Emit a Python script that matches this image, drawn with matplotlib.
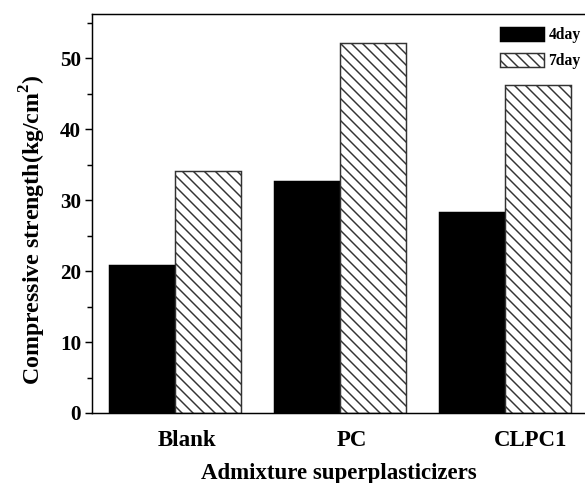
import matplotlib

matplotlib.use("Agg")
import matplotlib.pyplot as plt
import numpy as np

# data
groups = ["Blank", "PC", "CLPC1"]
day4 = [20.9, 32.7, 28.3]
day7 = [34.1, 52.1, 46.2]

plt.rcParams["font.family"] = ["Liberation Serif", "DejaVu Serif"]
plt.rcParams["font.weight"] = "bold"
plt.rcParams["mathtext.fontset"] = "custom"
plt.rcParams["mathtext.rm"] = "Liberation Serif:bold"
plt.rcParams["mathtext.bf"] = "Liberation Serif:bold"
plt.rcParams["hatch.linewidth"] = 0.8
plt.rcParams["hatch.color"] = "#333333"

DPI = 132
fig = plt.figure(figsize=(585 / DPI, 483 / DPI), dpi=DPI)
ax = fig.add_axes([92 / 585, 70 / 483, 1 - 92 / 585, (413 - 14) / 483])

x = np.arange(len(groups))
w = 0.4
ax.bar(x - w / 2, day4, w, color="black", edgecolor="black", lw=0.8, label="4day")
ax.bar(x + w / 2, day7, w, color="white", edgecolor="#333333", lw=0.8,
       hatch="\\\\\\\\", label="7day")

ax.set_xlim(-0.506, 2.488)
ax.set_ylim(0, 56.2)
ax.set_yticks(np.arange(0, 51, 10))
ax.set_yticks(np.arange(0, 56, 5), minor=True)
ax.tick_params(axis="y", which="major", direction="out", length=4, width=0.8,
               labelsize=11.5, pad=2)
ax.tick_params(axis="y", which="minor", direction="out", length=2.5, width=0.8)
ax.set_xticks(x + np.array([0.07, 0.07, 0.16]))
ax.set_xticklabels(groups, fontsize=12.5, fontweight="bold")
ax.tick_params(axis="x", length=0, pad=9)
ax.spines["right"].set_visible(False)
for s in ["left", "top", "bottom"]:
    ax.spines[s].set_linewidth(0.8)

ax.set_xlabel("Admixture superplasticizers", fontsize=12.5, fontweight="bold",
              labelpad=7)
ax.set_ylabel(r"Compressive strength(kg/cm$^{\mathbf{2}}$)", fontsize=13,
              fontweight="bold")
ax.yaxis.set_label_coords(-0.09, 0.46)

ax.legend(loc="upper left", bbox_to_anchor=(500 / 585, 1 - 27 / 483),
          bbox_transform=fig.transFigure, frameon=False, fontsize=8.5,
          handlelength=2.8, handleheight=1.0, handletextpad=0.3,
          labelspacing=0.6, borderpad=0, borderaxespad=0)

fig.savefig("out.png", dpi=DPI, facecolor="white")
